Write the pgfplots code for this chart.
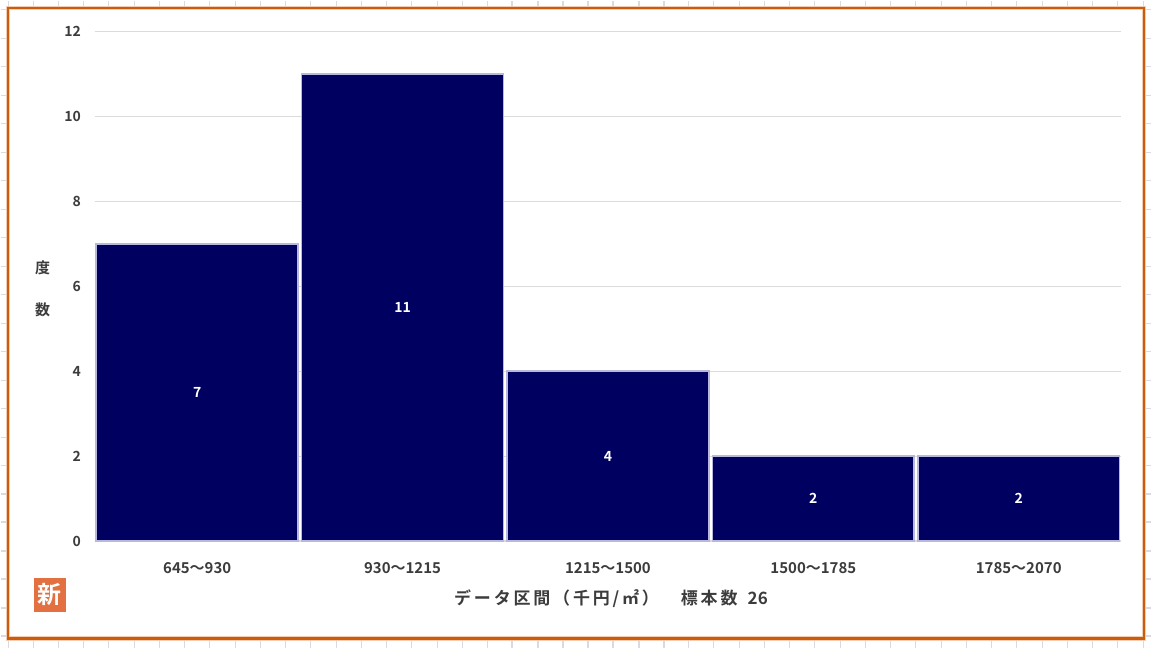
\documentclass[border=0pt]{standalone}
\usepackage{pgfplots}
\pgfplotsset{compat=1.18}
\usepackage{fontspec}
\setmainfont{Noto Sans CJK JP}
\newfontfamily\cjkb{Noto Sans CJK JP}[BoldFont={* Bold}]
\definecolor{barnavy}{RGB}{0,0,96}
\definecolor{baredge}{RGB}{184,184,222}
\definecolor{frameor}{RGB}{204,92,10}
\definecolor{txtgray}{RGB}{60,60,60}
\definecolor{sheetgrid}{RGB}{218,218,226}
\definecolor{iconor}{RGB}{226,112,64}
\begin{document}
\begin{tikzpicture}[x=1pt,y=1pt]
% spreadsheet background
\fill[white] (0,0) rectangle (1152,648);
\foreach \xx in {8,33,58,83,108,134,159,184,209,235,260,285,310,336,361,386,411,437,462,487,512,538,563,588,613,639,664,689,714,740,765,790,815,841,866,891,916,942,967,992,1017,1043,1068,1093,1118,1144} {
  \draw[sheetgrid,line width=1.2pt] (\xx,0) -- (\xx,648);
}
\foreach \yy in {12,40,69,97,126,154,183,211,240,268,297,325,354,382,411,439,468,496,525,553,582,610,639} {
  \draw[sheetgrid,line width=1.2pt] (0,\yy) -- (1152,\yy);
}
% frame
\fill[white] (7,9) rectangle (1145,641);
\draw[frameor!30,line width=4.5pt] (7.5,9.5) rectangle (1144.5,640.5);
\draw[frameor,line width=2.6pt] (7.5,9.5) rectangle (1144.5,640.5);
\begin{axis}[
  at={(94pt,107pt)}, anchor=south west,
  scale only axis, width=1028pt, height=510pt,
  xmin=-0.5, xmax=4.5, ymin=0, ymax=12,
  axis line style={draw=none},
  ybar, bar width=202pt, bar shift=0pt,
  ytick={0,2,...,12}, xtick={0,1,2,3,4},
  xticklabels={645～930,930～1215,1215～1500,1500～1785,1785～2070},
  ymajorgrids, grid style={line width=1.2pt, color=black!14},
  major tick length=0pt,
  tick label style={font=\fontsize{14}{16}\selectfont\cjkb\bfseries, text=txtgray},
  yticklabel style={xshift=-10pt},
  xticklabel style={yshift=-18pt, font=\fontsize{15}{17}\selectfont\cjkb\bfseries},
  /pgf/number format/assume math mode=true,
  clip=false,
]
\addplot[fill=barnavy, draw=baredge, line width=1.6pt,
  nodes near coords,
  visualization depends on={rawy \as \rawy},
  every node near coord/.append style={anchor=center, text=white,
    font=\fontsize{14}{16}\selectfont\cjkb\bfseries,
    shift={(axis direction cs:0,-\rawy/2)}},
] coordinates {(0,7) (1,11) (2,4) (3,2) (4,2)};
\end{axis}
% y label
\node[text=txtgray, font=\fontsize{15}{17}\selectfont\cjkb\bfseries] at (42,380) {度};
\node[text=txtgray, font=\fontsize{15}{17}\selectfont\cjkb\bfseries] at (42,338) {数};
% x label
\node[text=txtgray, font=\fontsize{17}{19}\selectfont\cjkb\bfseries] at (611,49) {デ\,ー\,タ\,区\,間\,（\,千\,円\,/\,㎡\,）\hspace{1.3em}標\,本\,数\hspace{0.6em}26};
% icon
\fill[iconor] (33,36) rectangle (65,70);
\node[text=white, font=\fontsize{24}{26}\selectfont\cjkb\bfseries] at (49,53) {新};
\end{tikzpicture}
\end{document}
